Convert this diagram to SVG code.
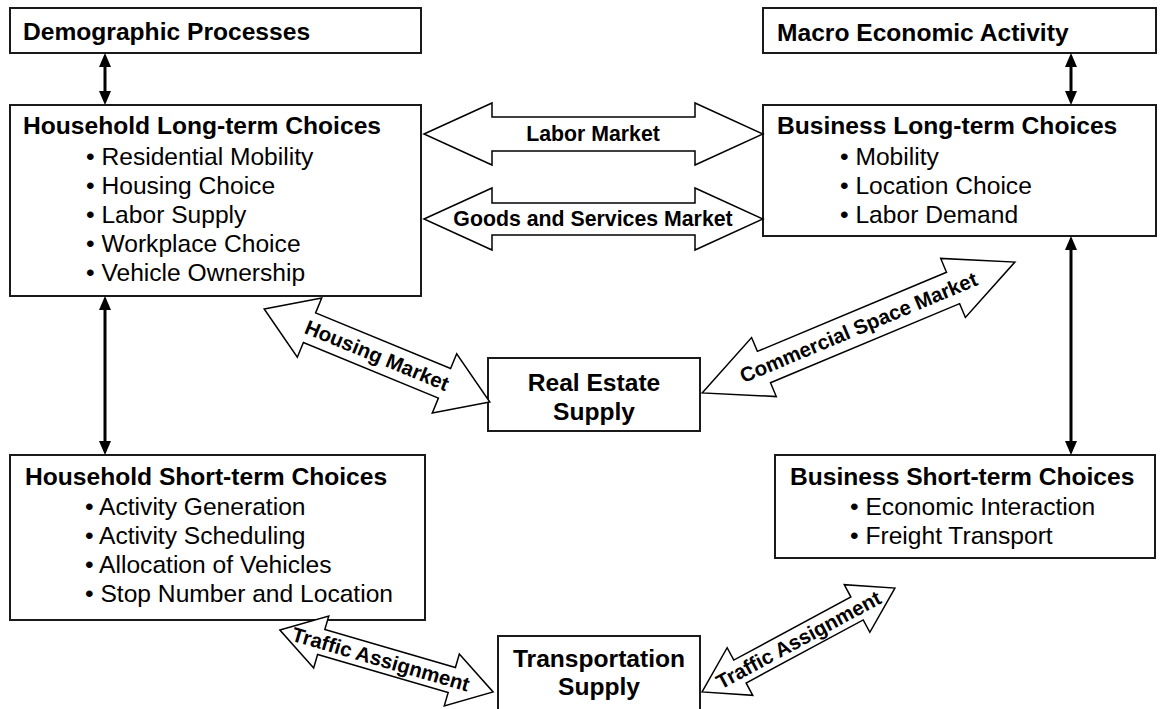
<svg xmlns="http://www.w3.org/2000/svg" width="1162" height="709" viewBox="0 0 1162 709">
  <style>
    .box { fill: #ffffff; stroke: #1a1a1a; stroke-width: 2; }
    .title { font-family: "Liberation Sans", Arial, sans-serif; font-weight: bold; font-size: 24.6px; fill: #000; }
    .item { font-family: "Liberation Sans", Arial, sans-serif; font-size: 24.6px; fill: #000; }
    .ctitle { font-family: "Liberation Sans", Arial, sans-serif; font-weight: bold; font-size: 24.6px; fill: #000; text-anchor: middle; }
    .block { fill: #ffffff; stroke: #000; stroke-width: 1.5; stroke-linejoin: miter; }
    .blabel { font-family: "Liberation Sans", Arial, sans-serif; font-weight: bold; font-size: 21.3px; fill: #000; text-anchor: middle; }
    .dlabel { font-family: "Liberation Sans", Arial, sans-serif; font-weight: bold; font-size: 20.5px; fill: #000; text-anchor: middle; }
    .link { stroke: #000; stroke-width: 3; fill: none; marker-start: url(#tip); marker-end: url(#tip); }
  </style>
  <defs>
    <marker id="tip" viewBox="0 0 14 12" refX="10" refY="6" markerWidth="14" markerHeight="12" markerUnits="userSpaceOnUse" orient="auto-start-reverse">
      <path d="M0,0 L14,6 L0,12 Z" fill="#000"/>
    </marker>
  </defs>

  <g id="demographic-processes">
    <rect class="box" x="10" y="8" width="411" height="45"/>
    <text class="title" x="23" y="40">Demographic Processes</text>
  </g>

  <g id="household-long-term">
    <rect class="box" x="10" y="105" width="411" height="191"/>
    <text class="title" x="23" y="134">Household Long-term Choices</text>
    <text class="item" x="86" y="165">• Residential Mobility</text>
    <text class="item" x="86" y="194">• Housing Choice</text>
    <text class="item" x="86" y="223">• Labor Supply</text>
    <text class="item" x="86" y="252">• Workplace Choice</text>
    <text class="item" x="86" y="281">• Vehicle Ownership</text>
  </g>

  <g id="macro-economic-activity">
    <rect class="box" x="763" y="8" width="393" height="45"/>
    <text class="title" x="777" y="41">Macro Economic Activity</text>
  </g>

  <g id="business-long-term">
    <rect class="box" x="763" y="105" width="393" height="131"/>
    <text class="title" x="777" y="134">Business Long-term Choices</text>
    <text class="item" x="840" y="165">• Mobility</text>
    <text class="item" x="840" y="194">• Location Choice</text>
    <text class="item" x="840" y="223">• Labor Demand</text>
  </g>

  <g id="real-estate-supply">
    <rect class="box" x="488" y="358" width="212" height="73"/>
    <text class="ctitle" x="594" y="391">Real Estate</text>
    <text class="ctitle" x="594" y="420">Supply</text>
  </g>

  <g id="household-short-term">
    <rect class="box" x="10" y="455" width="415" height="165"/>
    <text class="title" x="25" y="485">Household Short-term Choices</text>
    <text class="item" x="85" y="515">• Activity Generation</text>
    <text class="item" x="85" y="544">• Activity Scheduling</text>
    <text class="item" x="85" y="573">• Allocation of Vehicles</text>
    <text class="item" x="85" y="602">• Stop Number and Location</text>
  </g>

  <g id="business-short-term">
    <rect class="box" x="775" y="455" width="380" height="103"/>
    <text class="title" x="790" y="485">Business Short-term Choices</text>
    <text class="item" x="850" y="515">• Economic Interaction</text>
    <text class="item" x="850" y="544">• Freight Transport</text>
  </g>

  <g id="transportation-supply">
    <rect class="box" x="498" y="636" width="202" height="80"/>
    <text class="ctitle" x="599" y="667">Transportation</text>
    <text class="ctitle" x="599" y="695">Supply</text>
  </g>

  <g id="connectors">
    <!-- thin two-way links -->
    <line class="link" x1="105" y1="57" x2="105" y2="101"/>
    <line class="link" x1="1071" y1="57" x2="1071" y2="101"/>
    <line class="link" x1="105" y1="300" x2="105" y2="451"/>
    <line class="link" x1="1071" y1="240" x2="1071" y2="451"/>

    <!-- horizontal market block arrows -->
    <path class="block" d="M424,134 L492,103 L492,117 L695,117 L695,103 L763,134 L695,165 L695,151 L492,151 L492,165 Z"/>
    <text class="blabel" x="593" y="141">Labor Market</text>
    <path class="block" d="M424,219 L492,188 L492,203 L695,203 L695,188 L763,219 L695,250 L695,235 L492,235 L492,250 Z"/>
    <text class="blabel" x="593" y="226">Goods and Services Market</text>

    <!-- housing market -->
    <g transform="translate(377,355.5) rotate(22.4)">
      <path class="block" d="M-122,0 L-73,-32 L-73,-16 L73,-16 L73,-32 L122,0 L73,32 L73,16 L-73,16 L-73,32 Z"/>
      <text class="dlabel" x="0" y="7">Housing Market</text>
    </g>

    <!-- commercial space market -->
    <g transform="translate(858.5,327.5) rotate(-22.7)">
      <path class="block" d="M-169.5,0 L-102.5,-32 L-102.5,-17 L102.5,-17 L102.5,-32 L169.5,0 L102.5,32 L102.5,17 L-102.5,17 L-102.5,32 Z"/>
      <text class="dlabel" x="0" y="7">Commercial Space Market</text>
    </g>

    <!-- traffic assignment, household side -->
    <g transform="translate(386.5,661) rotate(16.2)">
      <path class="block" d="M-111,0 L-68,-27 L-68,-13 L68,-13 L68,-27 L111,0 L68,27 L68,13 L-68,13 L-68,27 Z"/>
      <text class="dlabel" x="-6" y="7">Traffic Assignment</text>
    </g>

    <!-- traffic assignment, business side -->
    <g transform="translate(798.5,640) rotate(-28.3)">
      <path class="block" d="M-109.5,0 L-66.5,-27 L-66.5,-13 L66.5,-13 L66.5,-27 L109.5,0 L66.5,27 L66.5,13 L-66.5,13 L-66.5,27 Z"/>
      <text class="dlabel" x="0" y="7">Traffic Assignment</text>
    </g>
  </g>
</svg>
